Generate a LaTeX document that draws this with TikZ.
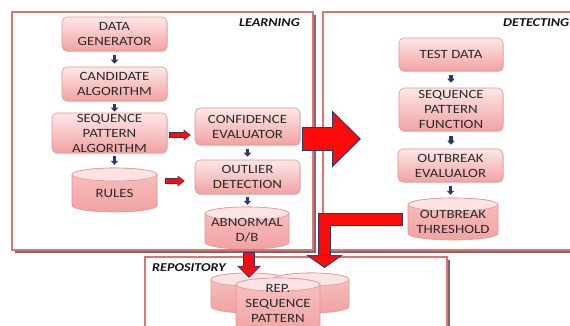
\documentclass[tikz,border=0pt]{standalone}
\usepackage{fontspec}
\setmainfont{Carlito}[FakeStretch=1.18]
\usetikzlibrary{arrows.meta,shadows,calc}

\definecolor{boxtop}{HTML}{FDE7E7}
\definecolor{boxbot}{HTML}{F2A2A2}
\definecolor{boxline}{HTML}{E39696}
\definecolor{cyltop}{HTML}{FDE3E3}
\definecolor{framered}{HTML}{DC7474}
\definecolor{frameshade}{HTML}{8A6464}
\definecolor{navyarrow}{HTML}{2B3A6C}
\definecolor{inktext}{HTML}{2A2A2A}
\definecolor{blockred}{HTML}{FF0A0A}

\tikzset{
  boxfont/.style={font=\fontsize{12.6}{15}\selectfont},
  procbox/.style={rectangle, rounded corners=5pt, draw=boxline, line width=0.6pt,
    top color=boxtop, bottom color=boxbot,
    drop shadow={shadow xshift=0.8pt, shadow yshift=-1.2pt, opacity=0.25},
    align=center, text=inktext, boxfont, inner sep=0pt},
  dbhold/.style={rectangle, inner sep=0pt},
  dbbody/.style={draw=boxline, line width=0.6pt, top color=boxbot!55!boxtop, bottom color=boxbot},
  dbcap/.style={draw=boxline, line width=0.6pt, fill=cyltop},
  dbtext/.style={align=center, text=inktext, boxfont, inner sep=0pt},
  panel/.style={rectangle, draw=framered, line width=1.2pt, fill=white,
    drop shadow={shadow xshift=2.8pt, shadow yshift=-2.8pt, fill=frameshade, opacity=1}},
  tag/.style={font=\fontsize{12}{14}\selectfont\bfseries\itshape, text=black!92, inner sep=0pt},
  navarr/.style={draw=navyarrow, line width=3.2pt, -{Triangle[length=4pt,width=7.5pt,line width=0pt]}},
}

% database cylinder: name, centre x, centre y, width, height
\newcommand\dbshape[5]{%
  \node[dbhold, minimum width=#4pt, minimum height=#5pt] (#1) at (#2,#3) {};
  \pgfmathsetmacro\dbL{#2-#4/2}%
  \pgfmathsetmacro\dbR{#2+#4/2}%
  \pgfmathsetmacro\dbT{#3+#5/2-6.5}%
  \pgfmathsetmacro\dbB{#3-#5/2+6.5}%
  \pgfmathsetmacro\dbrx{#4/2}%
  \path[dbbody] (\dbL,\dbT) -- (\dbL,\dbB)
    arc[start angle=180,end angle=360,x radius=\dbrx,y radius=6.5]
    -- (\dbR,\dbT)
    arc[start angle=0,end angle=180,x radius=\dbrx,y radius=6.5] -- cycle;
  \path[dbcap] (#2,\dbT) ellipse[x radius=\dbrx,y radius=6.5];
}

\begin{document}
\begin{tikzpicture}[x=1pt,y=1pt]
\useasboundingbox (0,0) rectangle (570,325);
\fill[white] (0,0) rectangle (570,325);

% panels
\node[panel, minimum width=301pt, minimum height=238pt] (learn) at (162.5,194) {};
\node[panel, minimum width=260pt, minimum height=238pt] (detect) at (453,194) {};
\node[panel, minimum width=302pt, minimum height=80pt] (repo) at (296,28) {};

\node[tag, anchor=east] (learntag) at (300,302) {LEARNING};
\node[tag, anchor=west] (detecttag) at (503,302) {DETECTING};
\node[tag, anchor=west] (repotag) at (152,57) {REPOSITORY};

% learning stage
\node[procbox, minimum width=105pt, minimum height=34pt] (gen) at (114.5,291) {DATA\\GENERATOR};
\node[procbox, minimum width=105pt, minimum height=34pt] (cand) at (114.5,241) {CANDIDATE\\ALGORITHM};
\node[procbox, minimum width=115pt, minimum height=40pt] (spa) at (109.5,192) {SEQUENCE\\PATTERN\\ALGORITHM};
\dbshape{rulesdb}{114.5}{135}{85}{44}
\node[dbtext] (rules) at (114.5,132) {RULES};
\node[procbox, minimum width=105pt, minimum height=37pt] (ce) at (247.5,198.5) {CONFIDENCE\\EVALUATOR};
\node[procbox, minimum width=105pt, minimum height=34pt] (od) at (247.5,148) {OUTLIER\\DETECTION};
\dbshape{abdb}{247}{97}{84}{42}
\node[dbtext] (ab) at (247,94.5) {ABNORMAL\\D/B};

% detecting stage
\node[procbox, minimum width=104pt, minimum height=33pt] (td) at (451,270.5) {TEST DATA};
\node[procbox, minimum width=104pt, minimum height=43pt] (spf) at (451,215.5) {SEQUENCE\\PATTERN\\FUNCTION};
\node[procbox, minimum width=105pt, minimum height=33pt] (oe) at (450.5,159.5) {OUTBREAK\\EVALUALOR};
\dbshape{otdb}{453}{106}{90}{42}
\node[dbtext] (ot) at (453,103.5) {OUTBREAK\\THRESHOLD};

% repository
\dbshape{repL}{249}{32}{76}{40}
\dbshape{repR}{311}{32}{76}{40}
\dbshape{repdb}{278}{17.5}{84}{59}
\node[dbtext] (rep) at (278,22) {REP.\\SEQUENCE\\PATTERN};

% small flow arrows
\draw[navarr, shorten <=4pt, shorten >=3pt] (gen.south) -- (cand.north);
\draw[navarr, shorten <=3pt, shorten >=1pt] (cand.south) -- (cand.south |- spa.north);
\draw[navarr, shorten <=3pt, shorten >=3pt] (spa.south -| rulesdb.north) -- (rulesdb.north);
\draw[navarr, shorten <=4pt, shorten >=3pt] (ce.south) -- (od.north);
\draw[navarr, shorten <=3pt, shorten >=2pt] (od.south) -- (od.south |- abdb.north);
\draw[navarr, shorten <=4pt, shorten >=5pt] (td.south) -- (spf.north);
\draw[navarr, shorten <=5pt, shorten >=4pt] (spf.south) -- (spf.south |- oe.north);
\draw[navarr, shorten <=4pt, shorten >=3pt] (oe.south) -- (oe.south |- otdb.north);

% outlined red arrows inside learning
\draw[navyarrow, line width=6pt, shorten <=2pt, shorten >=4pt, -{Triangle[length=7pt,width=11pt,line width=0pt]}]
  ([yshift=-2pt]spa.east) -- ([yshift=-2pt]spa.east -| ce.west);
\draw[blockred, line width=4pt, shorten <=2.8pt, shorten >=5pt, -{Triangle[length=5.5pt,width=8.5pt,line width=0pt]}]
  ([yshift=-2pt]spa.east) -- ([yshift=-2pt]spa.east -| ce.west);
\draw[navyarrow, line width=6pt, shorten <=8pt, shorten >=10pt, -{Triangle[length=7pt,width=11pt,line width=0pt]}]
  ([yshift=9pt]rulesdb.east) -- ([yshift=9pt]rulesdb.east -| od.west);
\draw[blockred, line width=4pt, shorten <=8.8pt, shorten >=11pt, -{Triangle[length=5.5pt,width=8.5pt,line width=0pt]}]
  ([yshift=9pt]rulesdb.east) -- ([yshift=9pt]rulesdb.east -| od.west);

% learning -> detecting
\coordinate (hand0) at (302,186);
\coordinate (hand1) at (361,186);
\draw[navyarrow, line width=24pt, -{Triangle[length=29pt,width=57pt,line width=0pt]}] (hand0) -- (hand1);
\draw[blockred, line width=21.4pt, shorten <=1.3pt, shorten >=2pt, -{Triangle[length=26pt,width=52.5pt,line width=0pt]}] (hand0) -- (hand1);

% threshold -> repository
\coordinate (dropL) at (324.5,57);
\draw[navyarrow, line width=13pt, line join=miter, -{Triangle[length=13pt,width=37pt,line width=0pt]}]
  ([xshift=-5pt]otdb.west) -| (dropL);
\draw[blockred, line width=11pt, line join=miter, shorten <=1pt, shorten >=1.6pt, -{Triangle[length=11pt,width=33pt,line width=0pt]}]
  ([xshift=-5pt]otdb.west) -| (dropL);

% abnormal d/b -> repository
\draw[navyarrow, line width=12pt, shorten <=3pt, -{Triangle[length=12pt,width=24pt,line width=0pt]}]
  ([xshift=2pt]abdb.south) -- ([yshift=-5pt]repL.north);
\draw[blockred, line width=10pt, shorten <=4pt, shorten >=1.5pt, -{Triangle[length=10pt,width=21pt,line width=0pt]}]
  ([xshift=2pt]abdb.south) -- ([yshift=-5pt]repL.north);
\end{tikzpicture}
\end{document}
